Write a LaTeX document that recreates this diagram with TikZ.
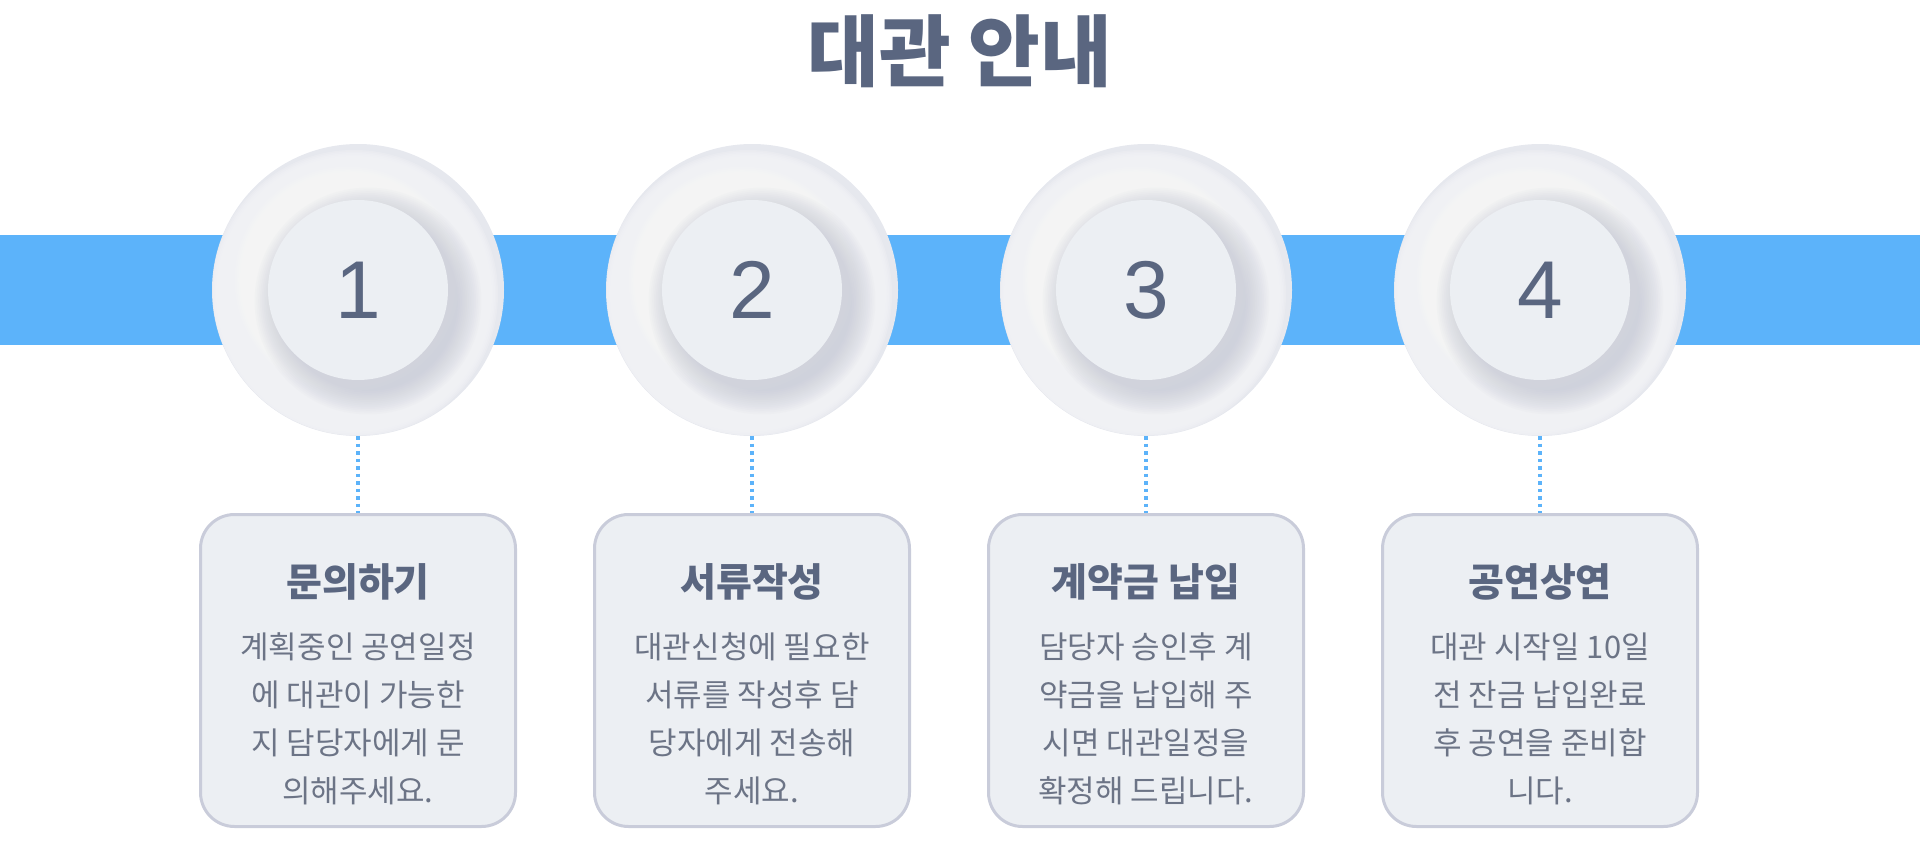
\documentclass[tikz,border=0pt]{standalone}
\usepackage{fontspec}
\setmainfont{Noto Sans CJK KR}
\newfontfamily\numfont{Liberation Sans}
\definecolor{bandblue}{HTML}{5CB3FA}
\definecolor{titlec}{HTML}{5A6680}
\definecolor{bodyc}{HTML}{6C7486}
\definecolor{boxborder}{HTML}{C9CCDA}
\definecolor{boxfill}{HTML}{ECEFF3}
\definecolor{discbase}{HTML}{E6E8EE}
\definecolor{rimlight}{HTML}{F3F4F7}
\definecolor{shadowc}{HTML}{BFC3D1}
\definecolor{innerfill}{HTML}{ECEFF3}
\tikzset{
  maintitle/.style={font=\bfseries\fontsize{78}{86}\selectfont, text=titlec, inner sep=0pt},
  outerdisc/.style={circle, minimum size=292pt, inner sep=0pt, fill=discbase},
  innerdisc/.style={circle, minimum size=180pt, inner sep=0pt, fill=innerfill, text=titlec, font=\numfont\fontsize{82}{82}\selectfont},
  stepbox/.style={rectangle, minimum width=315pt, minimum height=312pt, rounded corners=34pt, draw=boxborder, line width=3pt, fill=boxfill},
  boxtitle/.style={font=\bfseries\fontsize{39}{44}\selectfont, text=titlec, inner sep=0pt},
  boxbody/.style={font=\fontsize{31}{48}\selectfont, text=bodyc, align=center, inner sep=0pt},
  dotline/.style={draw=bandblue, line width=3.6pt, dash pattern=on 3.6pt off 3.9pt}
}
\begin{document}
\begin{tikzpicture}[x=1pt,y=-1pt]
\useasboundingbox (0,0) rectangle (1920,842);
\fill[bandblue] (0,235) rectangle (1920,345);
\node[maintitle] (title) at (960,51) {대관 안내};
\foreach \i/\cx/\ttl/\body in {
 1/358/문의하기/{계획중인 공연일정\\에 대관이 가능한\\지 담당자에게 문\\의해주세요.},
 2/752/서류작성/{대관신청에 필요한\\서류를 작성후 담\\당자에게 전송해\\주세요.},
 3/1146/계약금 납입/{담당자 승인후 계\\약금을 납입해 주\\시면 대관일정을\\확정해 드립니다.},
 4/1540/공연상연/{대관 시작일 10일\\전 잔금 납입완료\\후 공연을 준비합\\니다.}}{
  \node[outerdisc] (c\i) at (\cx,290) {};
  \begin{scope}
   \clip (\cx,290) circle (145.5);
   \foreach \k in {0,...,9}{\fill[rimlight, opacity=.32] (\cx-4,294) circle ({144-\k*1.5});}
   \foreach \k in {0,...,13}{\fill[white, opacity=.09] (\cx-10,280) circle ({90+\k*1.8});}
   \foreach \k in {0,...,13}{\fill[shadowc, opacity=.06] (\cx+10,301) circle ({90+\k*1.8});}
  \end{scope}
  \node[innerdisc] (n\i) at (\cx,290) {\i};
  \node[stepbox] (b\i) at (\cx,670.5) {};
  \node[boxtitle] (t\i) at (\cx,582) {\ttl};
  \node[boxbody] (d\i) at (\cx,719) {\body};
  \draw[dotline] (c\i) -- (b\i);
}
\end{tikzpicture}
\end{document}
